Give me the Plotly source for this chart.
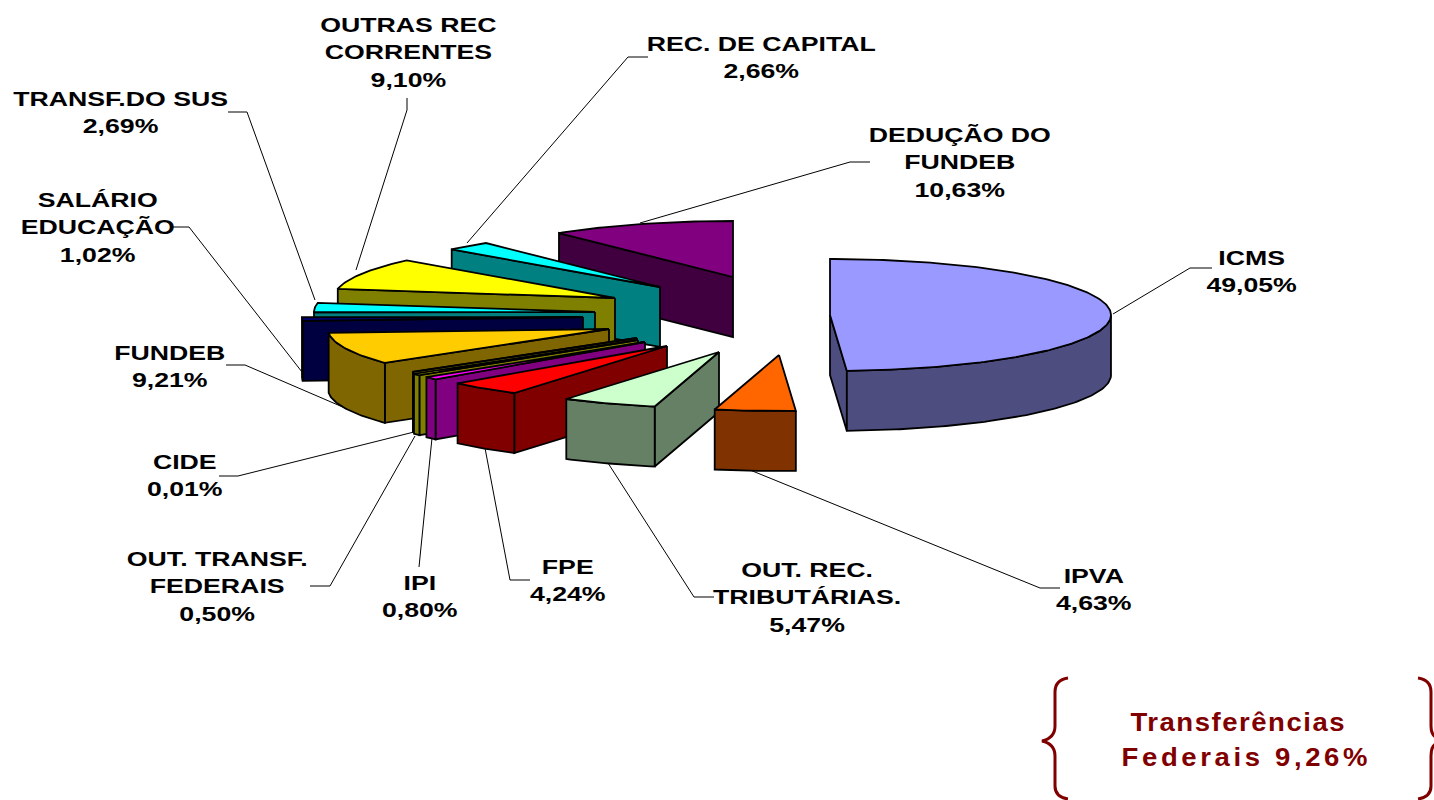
import numpy as np
import plotly.graph_objects as go

# ---- data -------------------------------------------------------------
categories = ["ICMS", "IPVA", "OUT. REC.<br>TRIBUTÁRIAS.", "FPE", "IPI", "OUT. TRANSF.<br>FEDERAIS", "CIDE",
              "FUNDEB", "SALÁRIO<br>EDUCAÇÃO", "TRANSF.DO SUS", "OUTRAS REC<br>CORRENTES",
              "REC. DE CAPITAL", "DEDUÇÃO DO<br>FUNDEB"]
values = [49.05, 4.63, 5.47, 4.24, 0.80, 0.50, 0.01, 9.21, 1.02, 2.69, 9.10, 2.66, 10.63]

# ---- style: colours, explosion of each slice, label placing --------------
top_colors = ["#9999FF", "#FF6600", "#CCFFCC", "#FF0000", "#FF00FF", "#FFFF00", "#FFFF00",
              "#FFCC00", "#000080", "#00FFFF", "#FFFF00", "#00FFFF", "#800080"]
side_colors = ["#4D4D80", "#803300", "#668066", "#800000", "#800080", "#808000", "#808000",
               "#806600", "#000040", "#008080", "#808000", "#008080", "#400040"]
exploded_x = [830, 779, 719, 667, 645, 638, 637, 609, 583, 595, 615, 660, 733]
exploded_y = [315, 355, 352, 346, 342, 340, 338, 329, 317, 312, 298, 287, 277]
RX, RY, DEPTH = 281, 56, 60
label_x = [1252, 1094, 807, 568, 420, 217, 185, 170, 97, 120, 408, 761, 960]
label_y = [271, 589, 597, 580, 596, 586, 475, 366, 227, 112, 52, 57, 162]
leader_x = [[1113, 1190, 1212], [750, 1040, 1060], [608, 694, 714], [485, 510, 530], [432, 419],
            [415, 330, 310], [414, 238, 219], [345, 245, 226], [302, 189, 170], [315, 247, 228],
            [356, 407, 407], [467, 628, 648], [640, 850, 870]]
leader_y = [[314, 268, 268], [470, 588, 588], [463, 597, 597], [448, 580, 580], [438, 567],
            [436, 586, 586], [432, 476, 476], [408, 365, 365], [372, 227, 227], [300, 112, 112],
            [270, 110, 98], [243, 57, 57], [223, 162, 162]]
brace_color = "#800000"
note_lines = ["Transferências", "Federais 9,26%"]
note_x = [1238, 1246]
note_y = [722, 757]

fig = go.Figure()


def face(xs, ys, fill):
    fig.add_trace(go.Scatter(x=list(xs) + [xs[0]], y=list(ys) + [ys[0]], mode="lines", fill="toself",
                             fillcolor=fill, line=dict(color="black", width=1.8),
                             hoverinfo="skip", showlegend=False))


shares = np.array(values) / sum(values) * 360.0
ends = 90.0 - np.cumsum(shares)
starts = np.concatenate([[90.0], ends[:-1]])

# Leader lines lie beneath the slices
for lx, ly in zip(leader_x, leader_y):
    fig.add_trace(go.Scatter(x=lx, y=ly, mode="lines", line=dict(color="black", width=1),
                             hoverinfo="skip", showlegend=False))

# Painted back to front: the last slice in clockwise order sits furthest back
for i in range(len(values) - 1, -1, -1):
    ax, ay = exploded_x[i], exploded_y[i]
    n = max(2, int(abs(starts[i] - ends[i])) + 2)
    t = np.radians(np.linspace(starts[i], ends[i], n))
    rx_pts = ax + RX * np.cos(t)
    ry_pts = ay - RY * np.sin(t)
    mx, my = rx_pts[n // 2], ry_pts[n // 2]

    # cut faces
    for px, py in ((rx_pts[0], ry_pts[0]), (rx_pts[-1], ry_pts[-1])):
        nx, ny = -(py - ay), px - ax
        if nx * (mx - ax) + ny * (my - ay) > 0:
            nx, ny = -nx, -ny
        if ny > 1e-6:
            face([ax, px, px, ax], [ay, py, py + DEPTH, ay + DEPTH], side_colors[i])

    # outer rim: only its front half shows
    front = np.sin(t) <= 1e-9
    if front.sum() >= 2:
        fx, fy = rx_pts[front], ry_pts[front]
        face(np.concatenate([fx, fx[::-1]]), np.concatenate([fy, fy[::-1] + DEPTH]), side_colors[i])

    # top surface
    face(np.concatenate([[ax], rx_pts]), np.concatenate([[ay], ry_pts]), top_colors[i])

annotations = []
for c, v, x, y in zip(categories, values, label_x, label_y):
    annotations.append(dict(x=x, y=y, xref="x", yref="y", showarrow=False, align="center",
                            text="<b>" + c + "<br>" + f"{v:.2f}".replace(".", ",") + "%</b>",
                            font=dict(family="Liberation Sans", size=21, color="black")))
for txt, x, y in zip(note_lines, note_x, note_y):
    annotations.append(dict(x=x, y=y, xref="x", yref="y", showarrow=False, text="<b>" + txt + "</b>",
                            font=dict(family="Liberation Sans", size=25, color=brace_color)))

brace_line = dict(color=brace_color, width=3)
shapes = [
    dict(type="path", xref="x", yref="y", line=brace_line,
         path="M 1068 678 Q 1055 680 1055 692 L 1055 726 Q 1055 738 1042 741 Q 1055 744 1055 756 "
              "L 1055 786 Q 1055 797 1068 799"),
    dict(type="path", xref="x", yref="y", line=brace_line,
         path="M 1418 678 Q 1431 680 1431 692 L 1431 726 Q 1431 735 1436 737"),
    dict(type="path", xref="x", yref="y", line=brace_line,
         path="M 1436 744 Q 1431 746 1431 756 L 1431 786 Q 1431 797 1418 799"),
]

fig.update_layout(
    width=1434, height=800, margin=dict(l=0, r=0, t=0, b=0),
    paper_bgcolor="white", plot_bgcolor="white",
    xaxis=dict(range=[0, 1434], visible=False, fixedrange=True),
    yaxis=dict(range=[800, 0], visible=False, fixedrange=True),
    annotations=annotations, shapes=shapes,
)

post = """
document.body.style.margin = '0';
document.querySelectorAll('.annotation-text').forEach(function (t) {
  var txt = t.textContent;
  var scale = '1.27';
  if (txt.indexOf('Transfer') === 0) { t.style.letterSpacing = '1.4px'; scale = '1.1'; }
  if (txt.indexOf('Federais') === 0) { t.style.letterSpacing = '3.3px'; scale = '1.1'; }
  t.style.transformBox = 'fill-box';
  t.style.transformOrigin = 'center';
  t.style.transform = 'scaleX(' + scale + ')';
});
"""
fig.write_html("out.html", post_script=post, config={"displayModeBar": False})
